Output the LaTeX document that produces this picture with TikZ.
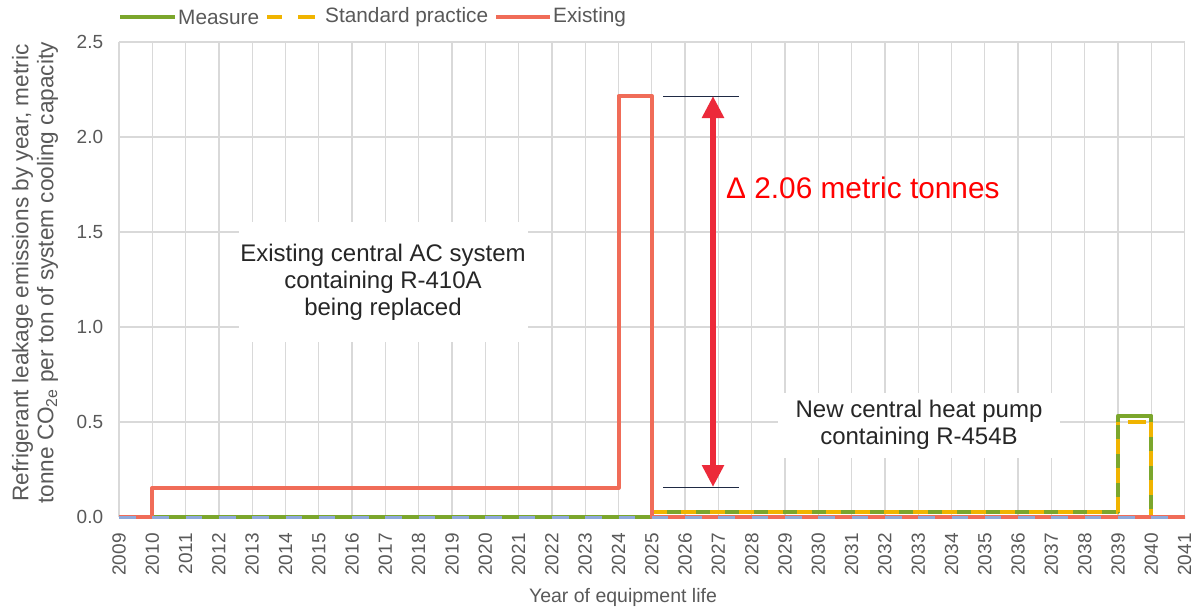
\documentclass[tikz,border=0pt]{standalone}
\usepackage{fontspec}
\setmainfont{Liberation Sans}
\usetikzlibrary{arrows.meta}
\definecolor{gridc}{HTML}{D9D9D9}
\definecolor{tickc}{HTML}{595959}
\definecolor{annc}{HTML}{262626}
\definecolor{measc}{HTML}{7BA62C}
\definecolor{stdc}{HTML}{F0B400}
\definecolor{exic}{HTML}{F06C58}
\definecolor{basec}{HTML}{8EA9DB}
\definecolor{arrc}{HTML}{EC2A3A}
\definecolor{navyc}{HTML}{1F2A44}
\tikzset{
  grid line/.style={gridc, line width=1.3pt},
  series/.style={line width=4pt, line join=round},
  stddash/.style={series, stdc, dash pattern=on 15pt off 14pt},
  ticklab/.style={text=tickc, inner sep=0pt, font=\fontsize{19}{22}\selectfont},
  legtext/.style={text=tickc, inner sep=0pt, anchor=west, font=\fontsize{20.8}{24}\selectfont},
  annbox/.style={fill=white, text=annc, align=center, inner sep=0pt, font=\fontsize{24}{27}\selectfont},
  thinline/.style={navyc, line width=1pt},
}
\begin{document}
\begin{tikzpicture}[x=1pt,y=-1pt]
\useasboundingbox (0,0) rectangle (1194,611);
\fill[white] (0,0) rectangle (1194,611);

\begin{scope}[shift={(119,517)},x=33.3pt,y=190pt]
  % grid
  \foreach \i in {0,...,32} \draw[grid line] (\i,0) -- (\i,2.5);
  \foreach \v in {0.5,1,1.5,2,2.5} \draw[grid line] (0,\v) -- (32,\v);
  % y tick labels
  \foreach \v/\t in {0/0.0,0.5/0.5,1/1.0,1.5/1.5,2/2.0,2.5/2.5}
    \node[ticklab, anchor=east] (yt\t) at (-0.47,\v) {\t};
  % x tick labels
  \foreach \i in {0,...,32}{
    \pgfmathtruncatemacro\yr{2009+\i}
    \node[ticklab, rotate=90, anchor=east] (xt\i) at (\i,-0.085) {\yr};
  }
  % Measure
  \draw[series, measc] (0,0) -- (16,0) -- (16,0.028) -- (30,0.028) -- (30,0.533) -- (31,0.533) -- (31,0);
  % Standard practice
  \draw[stddash] (16,0.028) -- (30,0.028);
  \draw[stddash] (30,0.028) -- (30,0.5);
  \draw[series, stdc, dash pattern=on 18pt off 40pt, dash phase=-9.5pt] (30,0.5) -- (31,0.5);
  \draw[stddash] (31,0.5) -- (31,0);
  % Existing
  \draw[series, exic] (0,0) -- (1,0) -- (1,0.153) -- (15,0.153) -- (15,2.216) -- (16,2.216) -- (16,0) -- (32,0);
  % base series
  \draw[basec, line width=3pt, dash pattern=on 16.65pt off 16.65pt] (0,0) -- (32,0);
\end{scope}

% annotation boxes
\node[annbox, minimum width=289pt, minimum height=120pt] (box1) at (383,282)
  {Existing central AC system\\containing R-410A\\being replaced};
\node[annbox, minimum width=282pt, minimum height=65pt] (box2) at (919,425)
  {New central heat pump\\containing R-454B};

% difference marker
\coordinate (t1) at (663,96);
\coordinate (t2) at (739,96);
\coordinate (b1) at (663,487);
\coordinate (b2) at (739,487);
\coordinate (atop) at (713,96);
\coordinate (abot) at (713,487);
\draw[thinline] (t1) -- (t2);
\draw[thinline] (b1) -- (b2);
\draw[arrc, line width=6pt, {Triangle[length=22pt,width=21pt]}-{Triangle[length=22pt,width=21pt]}] (atop) -- (abot);
\node[anchor=west, text=red, inner sep=0pt, font=\fontsize{29.8}{33}\selectfont] (delta) at (726,188) {Δ 2.06 metric tonnes};

% axis titles
\node[rotate=90, align=center, text=tickc, inner sep=0pt, font=\fontsize{22.6}{25}\selectfont] (ylab) at (35,273)
  {Refrigerant leakage emissions by year, metric\\tonne CO\textsubscript{2e} per ton of system cooling capacity};
\node[text=tickc, inner sep=0pt, font=\fontsize{19.5}{22}\selectfont] (xlab) at (623,597) {Year of equipment life};

% legend
\coordinate (lm1) at (120,17);
\coordinate (lm2) at (175,17);
\draw[line width=4pt, measc] (lm1) -- (lm2);
\node[legtext] (lmeas) at (178,17) {Measure};
\coordinate (ls1) at (267,17);
\coordinate (ls2) at (282,17);
\coordinate (ls3) at (298,17);
\coordinate (ls4) at (315,17);
\draw[line width=4pt, stdc] (ls1) -- (ls2);
\draw[line width=4pt, stdc] (ls3) -- (ls4);
\node[legtext] (lstd) at (325,17) {Standard practice};
\coordinate (le1) at (496,17);
\coordinate (le2) at (550,17);
\draw[line width=4pt, exic] (le1) -- (le2);
\node[legtext] (lexi) at (553,17) {Existing};
\end{tikzpicture}
\end{document}
